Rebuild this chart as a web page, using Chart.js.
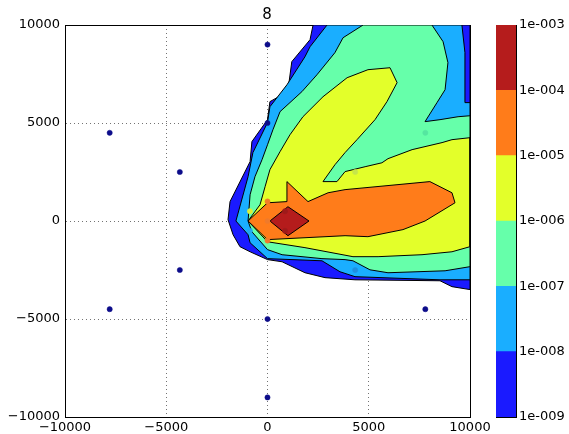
<!DOCTYPE html>
<html>
<head>
<meta charset="utf-8">
<script src="https://cdn.jsdelivr.net/npm/chart.js@4.4.1/dist/chart.umd.min.js"></script>
<style>
  body { margin: 0; background: #fff; }
  #wrap { position: relative; width: 569px; height: 434px; overflow: hidden; }
  #main { position: absolute; left: 0; top: 0; }
  #bar { position: absolute; left: 480px; top: 0; }
  #title { position: absolute; left: 217px; top: 4px; width: 100px; text-align: center;
           font: 15px "DejaVu Sans", sans-serif; line-height: 20px; color: #000; }
</style>
</head>
<body>
<div id="wrap">
  <canvas id="main" width="500" height="434"></canvas>
  <canvas id="bar" width="89" height="434"></canvas>
  <div id="title">8</div>
</div>
<script>
// contour regions, value above each level (data units)
const contour1e9 = [[2250,10000],[2100,9250],[1200,8130],[1000,6600],[120,6090],[0,5170],[-770,4050],[-860,3030],
  [-1850,990],[-1950,70],[-1700,-700],[-1360,-1310],[-860,-1570],[0,-1970],[720,-2080],[1850,-2640],[2840,-2890],
  [4320,-3000],[8520,-3050],[9110,-3350],[10000,-3500],[10000,10000]];
const contour1e8 = [[2940,10000],[2100,8890],[1850,8380],[960,6950],[120,5830],[0,5020],[-720,3490],[-960,2260],
  [-1560,0],[-960,-700],[-860,-1110],[0,-1920],[2690,-2030],[3580,-2590],[4320,-2840],[8520,-3000],[10000,-3000],
  [10000,6040],[9750,6040],[9750,8590],[9600,10000]];
const contour1e7 = [[4720,10000],[3730,9350],[3330,8590],[2440,7460],[1700,6600],[620,5580],[270,4660],[0,3890],
  [-270,3130],[-620,2260],[-860,1340],[-960,0],[-770,-550],[0,-1460],[720,-1720],[2690,-1920],[3830,-1970],
  [4220,-2030],[5060,-2490],[5950,-2640],[8770,-2540],[10000,-2330],[10000,5370],[9410,5320],[8520,5170],
  [7780,5070],[8370,6040],[8770,6700],[8910,8080],[8670,9150],[8120,10000]];
const contour1e6 = [[4960,7720],[6050,7820],[6400,7060],[5900,6090],[5310,5170],[4420,4150],[3830,3490],[3330,2870],
  [2740,2010],[3430,2010],[3830,2520],[4820,2770],[5650,2970],[5950,3180],[7140,3640],[8620,4000],[9110,4150],
  [10000,4250],[10000,-1310],[9110,-1570],[7630,-1720],[5460,-1820],[4220,-1820],[1850,-1360],[0,-1060],[-960,0],
  [-370,830],[-120,1750],[120,2620],[620,3540],[1110,4400],[1750,5320],[2740,6340],[3930,7310]];
const contour1e5 = [[-960,0],[0,930],[960,990],[960,2010],[2000,990],[2990,1440],[3830,1600],[8020,2010],[9110,1440],
  [9260,930],[7780,0],[6690,-440],[4960,-800],[3830,-750],[0,-950]];
const contour1e4 = [[120,0],[1010,730],[2050,0],[1010,-750]];

const contours = [contour1e9, contour1e8, contour1e7, contour1e6, contour1e5, contour1e4];
const levelColors = ['#1a1aff', '#1aaeff', '#66ffaa', '#e3ff2a', '#ff7c1a', '#b51c1c'];
const colorbarLabels = ['1e-009', '1e-008', '1e-007', '1e-006', '1e-005', '1e-004', '1e-003'];

// receiver positions
const sourceX = [0, 0, 0, 0, -7794, -4330, -4330, -7794, 7794, 4330, 4330, 7794, 0, 0, 0, 866, 866, -866, -866];
const sourceY = [9000, 5000, -5000, -9000, 4500, 2500, -2500, -4500, 4500, 2500, -2500, -4500, 0, 1000, -1000, 500, -500, 500, -500];
const sourceColors = ['#0c0c8a', '#0c0c8a', '#0c0c8a', '#0c0c8a', '#0c0c8a', '#0c0c8a', '#0c0c8a', '#0c0c8a',
  '#55e6a0', '#c6e64a', '#1f90e0', '#0c0c8a', '#f07a2a', '#f27c28', '#f07a2a', '#9e1a1a', '#9e1a1a', '#d8f038', '#22a8f0'];

Chart.defaults.font.family = '"DejaVu Sans", sans-serif';
Chart.defaults.font.size = 13;
Chart.defaults.color = '#000';

function fmt(v) {
  return v < 0 ? '\u2212' + Math.abs(v) : String(v);
}

const datasets = contours.map((poly, i) => ({
  data: poly.concat([poly[0]]).map(p => ({ x: p[0], y: p[1] })),
  showLine: true,
  fill: 'shape',
  backgroundColor: levelColors[i],
  borderColor: '#000',
  borderWidth: 1,
  pointRadius: 0,
  pointHoverRadius: 0,
  tension: 0,
  order: contours.length - i
}));
datasets.push({
  data: sourceX.map((x, i) => ({ x: x, y: sourceY[i] })),
  pointRadius: 2.6,
  pointBackgroundColor: sourceColors,
  pointBorderColor: sourceColors,
  pointBorderWidth: 0.5,
  order: 0
});

const gridStyle = { color: 'rgba(0,0,0,0.55)', lineWidth: 1, drawTicks: false };
const frame = { display: true, color: '#000', width: 1, dash: [1, 3] };

new Chart(document.getElementById('main'), {
  type: 'scatter',
  data: { datasets: datasets },
  options: {
    responsive: false,
    animation: false,
    layout: { padding: 0 },
    plugins: { legend: { display: false }, tooltip: { enabled: false } },
    scales: {
      x: {
        type: 'linear', min: -10000, max: 10000, z: 1,
        ticks: { stepSize: 5000, padding: 3, maxRotation: 0, callback: fmt },
        grid: gridStyle,
        border: frame,
        afterFit: s => { s.height = 17; }
      },
      y: {
        type: 'linear', min: -10000, max: 10000, z: 1,
        ticks: { stepSize: 5000, padding: 5, callback: fmt },
        grid: gridStyle,
        border: frame,
        afterFit: s => { s.width = 65; }
      },
      xTop: {
        type: 'linear', position: 'top', z: 1,
        ticks: { display: false }, grid: { display: false },
        border: { display: true, color: '#000', width: 1 },
        afterFit: s => { s.height = 25; }
      },
      yRight: {
        type: 'linear', position: 'right', z: 1,
        ticks: { display: false }, grid: { display: false },
        border: { display: true, color: '#000', width: 1 },
        afterFit: s => { s.width = 30; }
      }
    }
  }
});

// colorbar
new Chart(document.getElementById('bar'), {
  type: 'bar',
  data: {
    labels: [''],
    datasets: levelColors.map(c => ({
      data: [1],
      backgroundColor: c,
      borderWidth: 0,
      barPercentage: 1,
      categoryPercentage: 1
    }))
  },
  options: {
    responsive: false,
    animation: false,
    layout: { padding: 0 },
    plugins: { legend: { display: false }, tooltip: { enabled: false } },
    scales: {
      x: {
        stacked: true, z: 1,
        ticks: { display: false }, grid: { display: false, drawTicks: false },
        border: { display: true, color: '#000', width: 1 },
        afterFit: s => { s.height = 17; }
      },
      y: {
        stacked: true, position: 'right', min: 0, max: 6, z: 1,
        ticks: { stepSize: 1, padding: 3, callback: v => colorbarLabels[v] },
        grid: { display: false, drawTicks: false },
        border: { display: true, color: '#000', width: 1 },
        afterFit: s => { s.width = 53; }
      },
      xTop: {
        type: 'linear', position: 'top', z: 1,
        ticks: { display: false }, grid: { display: false, drawTicks: false },
        border: { display: true, color: '#000', width: 1 },
        afterFit: s => { s.height = 25; }
      },
      yLeft: {
        type: 'linear', position: 'left', z: 1,
        ticks: { display: false }, grid: { display: false, drawTicks: false },
        border: { display: true, color: '#000', width: 1 },
        afterFit: s => { s.width = 16; }
      }
    }
  }
});
</script>
</body>
</html>
